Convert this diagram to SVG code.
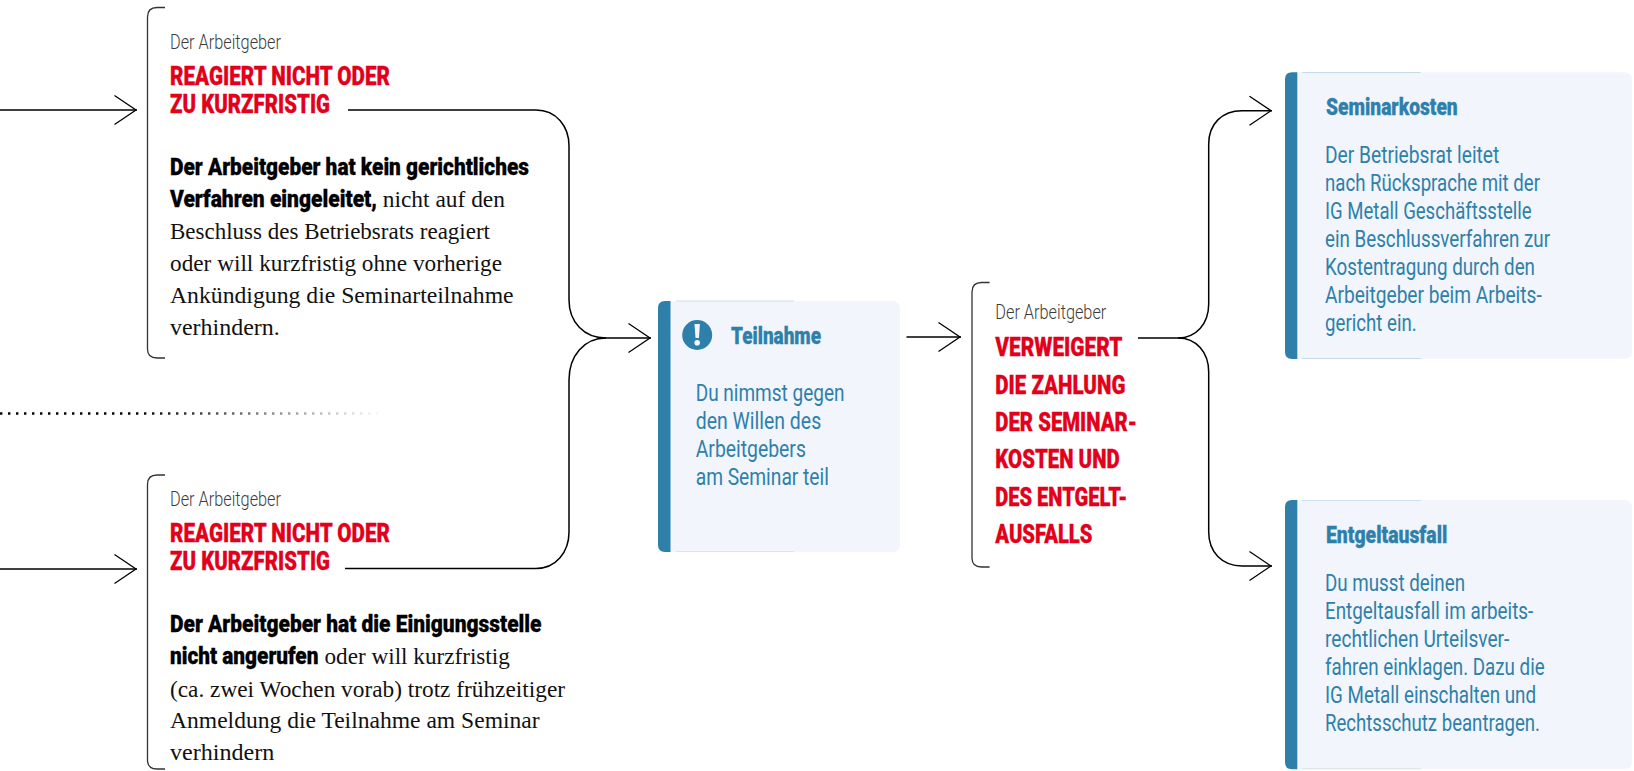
<svg xmlns="http://www.w3.org/2000/svg" width="1634" height="771" viewBox="0 0 1634 771">
<style>
text{font-family:Roboto,"Liberation Sans",sans-serif}
.l{font-weight:300;font-size:20px;fill:#3c3c3b}
.r{font-weight:900;font-size:25.500px;fill:#e2001a;stroke:#e2001a;stroke-width:.3px}
.b{font-family:Roboto,"Liberation Sans",sans-serif;font-weight:900;font-size:23px;fill:#000;stroke:#000;stroke-width:.3px}
.s{font-family:"Liberation Serif",serif;font-size:24px;fill:#111}
.t{font-weight:900;font-size:23px;fill:#2e80ab;stroke:#2e80ab;stroke-width:.3px}
.p{font-weight:400;font-size:23px;fill:#2e80ab}
.c{fill:none;stroke:#000;stroke-width:1.5}
.br{fill:none;stroke:#333;stroke-width:1.3}
.bg{fill:#f2f5fb}
.bar{fill:#2e80ab}
</style>
<defs>
<marker id="a" markerUnits="userSpaceOnUse" markerWidth="30" markerHeight="34" refX="24" refY="16" orient="auto"><path d="M1.500,1.500 L23,16 L1.500,30.500" fill="none" stroke="#000" stroke-width="1.300"/></marker>
<linearGradient id="fade" gradientUnits="userSpaceOnUse" x1="0" y1="0" x2="385" y2="0"><stop offset="0" stop-color="#000"/><stop offset=".35" stop-color="#000"/><stop offset="1" stop-color="#000" stop-opacity="0"/></linearGradient>
</defs>
<g id="connectors">
<path class="c" d="M0,110 H137" marker-end="url(#a)"/>
<path class="c" d="M0,569 H137" marker-end="url(#a)"/>
<path class="c" d="M348,110 H536 C556,110 569,126 569,146 V300 C569,322 584,338 606,338 H651" marker-end="url(#a)"/>
<path class="c" d="M345,568.500 H536 C556,568.500 569,552 569,532 V380 C569,356 584,338 606,338"/>
<path class="c" d="M906.500,337 H961" marker-end="url(#a)"/>
<path class="c" d="M1138,338 H1178 C1196,338 1208.700,324 1208.700,304 V144 C1208.700,124 1222,110.700 1242,110.700 H1272" marker-end="url(#a)"/>
<path class="c" d="M1178,338 C1196,338 1208.700,352 1208.700,372 V532 C1208.700,552 1222,566 1242,566 H1272" marker-end="url(#a)"/>
<path d="M0,413.500 H385" fill="none" stroke="url(#fade)" stroke-width="2.400" stroke-dasharray="2.400 5.600"/>
</g>
<g id="node-reagiert-1">
<path class="br" d="M165,7.500 H157 Q147.500,7.500 147.500,17 V349 Q147.500,358 157,358 H165"/>
<text class="l" x="170" y="48.700" textLength="111" lengthAdjust="spacingAndGlyphs">Der Arbeitgeber</text>
<text class="r" x="170" y="85" textLength="220" lengthAdjust="spacingAndGlyphs">REAGIERT NICHT ODER</text>
<text class="r" x="170" y="113.300" textLength="160" lengthAdjust="spacingAndGlyphs">ZU KURZFRISTIG</text>
<text class="b" x="170" y="174.500" textLength="359" lengthAdjust="spacingAndGlyphs">Der Arbeitgeber hat kein gerichtliches</text>
<text y="206.700"><tspan class="b" x="170" textLength="207" lengthAdjust="spacingAndGlyphs">Verfahren eingeleitet,</tspan><tspan class="s" x="382.700" textLength="122.300" lengthAdjust="spacingAndGlyphs">nicht auf den</tspan></text>
<text class="s" x="170" y="239" textLength="320" lengthAdjust="spacingAndGlyphs">Beschluss des Betriebsrats reagiert</text>
<text class="s" x="170" y="271" textLength="332" lengthAdjust="spacingAndGlyphs">oder will kurzfristig ohne vorherige</text>
<text class="s" x="170" y="303" textLength="343.600" lengthAdjust="spacingAndGlyphs">Ankündigung die Seminarteilnahme</text>
<text class="s" x="170" y="335" textLength="109.800" lengthAdjust="spacingAndGlyphs">verhindern.</text>
</g>
<g id="node-reagiert-2">
<path class="br" d="M165,475 H157 Q147.500,475 147.500,484.500 V760 Q147.500,769 157,769 H165"/>
<text class="l" x="170" y="506" textLength="111" lengthAdjust="spacingAndGlyphs">Der Arbeitgeber</text>
<text class="r" x="170" y="542" textLength="220" lengthAdjust="spacingAndGlyphs">REAGIERT NICHT ODER</text>
<text class="r" x="170" y="570" textLength="160" lengthAdjust="spacingAndGlyphs">ZU KURZFRISTIG</text>
<text class="b" x="170" y="631.700" textLength="371.500" lengthAdjust="spacingAndGlyphs">Der Arbeitgeber hat die Einigungsstelle</text>
<text y="664.300"><tspan class="b" x="170" textLength="148.400" lengthAdjust="spacingAndGlyphs">nicht angerufen</tspan><tspan class="s" x="324.500" textLength="185.300" lengthAdjust="spacingAndGlyphs">oder will kurzfristig</tspan></text>
<text class="s" x="170" y="696.700" textLength="395" lengthAdjust="spacingAndGlyphs">(ca. zwei Wochen vorab) trotz frühzeitiger</text>
<text class="s" x="170" y="728.300" textLength="369.600" lengthAdjust="spacingAndGlyphs">Anmeldung die Teilnahme am Seminar</text>
<text class="s" x="170" y="760" textLength="104.400" lengthAdjust="spacingAndGlyphs">verhindern</text>
</g>
<g id="node-teilnahme">
<rect class="bg" x="662" y="301" width="238" height="251" rx="7"/>
<path class="bar" d="M670.500,301 H665 Q658,301 658,308 V545 Q658,552 665,552 H670.500 Z"/>
<path d="M676,301 H794" fill="none" stroke="#cfdde9" stroke-width="1"/>
<path d="M676,551.500 H794" fill="none" stroke="#dbe5ef" stroke-width="1"/>
<circle class="bar" cx="697.200" cy="335" r="15"/>
<path d="M694.500,324 h5.400 l-1,14 h-3.400 Z" fill="#f2f5fb"/>
<circle cx="697.200" cy="342.800" r="2.800" fill="#f2f5fb"/>
<text class="t" x="731" y="344" textLength="90" lengthAdjust="spacingAndGlyphs">Teilnahme</text>
<text class="p" x="695.700" y="400.700" textLength="148.800" lengthAdjust="spacingAndGlyphs">Du nimmst gegen</text>
<text class="p" x="695.700" y="428.700" textLength="125.500" lengthAdjust="spacingAndGlyphs">den Willen des</text>
<text class="p" x="695.700" y="456.700" textLength="110.200" lengthAdjust="spacingAndGlyphs">Arbeitgebers</text>
<text class="p" x="695.700" y="484.700" textLength="133.200" lengthAdjust="spacingAndGlyphs">am Seminar teil</text>
</g>
<g id="node-verweigert">
<path class="br" d="M989.600,282.500 H981.500 Q972,282.500 972,292 V558 Q972,567 981.500,567 H989.600"/>
<text class="l" x="995.300" y="318.700" textLength="111" lengthAdjust="spacingAndGlyphs">Der Arbeitgeber</text>
<text class="r" x="995.300" y="356" textLength="127.100" lengthAdjust="spacingAndGlyphs">VERWEIGERT</text>
<text class="r" x="995.300" y="394" textLength="130.100" lengthAdjust="spacingAndGlyphs">DIE ZAHLUNG</text>
<text class="r" x="995.300" y="431" textLength="141.700" lengthAdjust="spacingAndGlyphs">DER SEMINAR-</text>
<text class="r" x="995.300" y="468" textLength="124.400" lengthAdjust="spacingAndGlyphs">KOSTEN UND</text>
<text class="r" x="995.300" y="506" textLength="132.100" lengthAdjust="spacingAndGlyphs">DES ENTGELT-</text>
<text class="r" x="995.300" y="543" textLength="97.200" lengthAdjust="spacingAndGlyphs">AUSFALLS</text>
</g>
<g id="node-seminarkosten">
<rect class="bg" x="1290" y="72.300" width="342" height="286.700" rx="7"/>
<path class="bar" d="M1297.300,72.300 H1292 Q1285,72.300 1285,79.300 V352 Q1285,359 1292,359 H1297.300 Z"/>
<path d="M1302,72.500 H1420.700 M1302,358.500 H1420.700" fill="none" stroke="#c5dbe8" stroke-width="1"/>
<text class="t" x="1326" y="115" textLength="131.700" lengthAdjust="spacingAndGlyphs">Seminarkosten</text>
<text class="p" x="1325" y="162.700" textLength="174.300" lengthAdjust="spacingAndGlyphs">Der Betriebsrat leitet</text>
<text class="p" x="1325" y="190.700" textLength="215" lengthAdjust="spacingAndGlyphs">nach Rücksprache mit der</text>
<text class="p" x="1325" y="218.700" textLength="206.700" lengthAdjust="spacingAndGlyphs">IG Metall Geschäftsstelle</text>
<text class="p" x="1325" y="246.700" textLength="225" lengthAdjust="spacingAndGlyphs">ein Beschlussverfahren zur</text>
<text class="p" x="1325" y="274.700" textLength="210" lengthAdjust="spacingAndGlyphs">Kostentragung durch den</text>
<text class="p" x="1325" y="302.700" textLength="216.700" lengthAdjust="spacingAndGlyphs">Arbeitgeber beim Arbeits-</text>
<text class="p" x="1325" y="330.700" textLength="91.700" lengthAdjust="spacingAndGlyphs">gericht ein.</text>
</g>
<g id="node-entgeltausfall">
<rect class="bg" x="1290" y="500" width="342" height="269.300" rx="7"/>
<path class="bar" d="M1297.300,500 H1292 Q1285,500 1285,507 V762.300 Q1285,769.300 1292,769.300 H1297.300 Z"/>
<path d="M1302,500.500 H1420.700 M1302,768.800 H1420.700" fill="none" stroke="#d0e0ec" stroke-width="1"/>
<text class="t" x="1326" y="542.700" textLength="121.300" lengthAdjust="spacingAndGlyphs">Entgeltausfall</text>
<text class="p" x="1325" y="590.700" textLength="140" lengthAdjust="spacingAndGlyphs">Du musst deinen</text>
<text class="p" x="1325" y="618.700" textLength="208.300" lengthAdjust="spacingAndGlyphs">Entgeltausfall im arbeits-</text>
<text class="p" x="1325" y="646.700" textLength="184.300" lengthAdjust="spacingAndGlyphs">rechtlichen Urteilsver-</text>
<text class="p" x="1325" y="674.700" textLength="219.700" lengthAdjust="spacingAndGlyphs">fahren einklagen. Dazu die</text>
<text class="p" x="1325" y="702.700" textLength="211" lengthAdjust="spacingAndGlyphs">IG Metall einschalten und</text>
<text class="p" x="1325" y="730.700" textLength="215" lengthAdjust="spacingAndGlyphs">Rechtsschutz beantragen.</text>
</g>
</svg>
